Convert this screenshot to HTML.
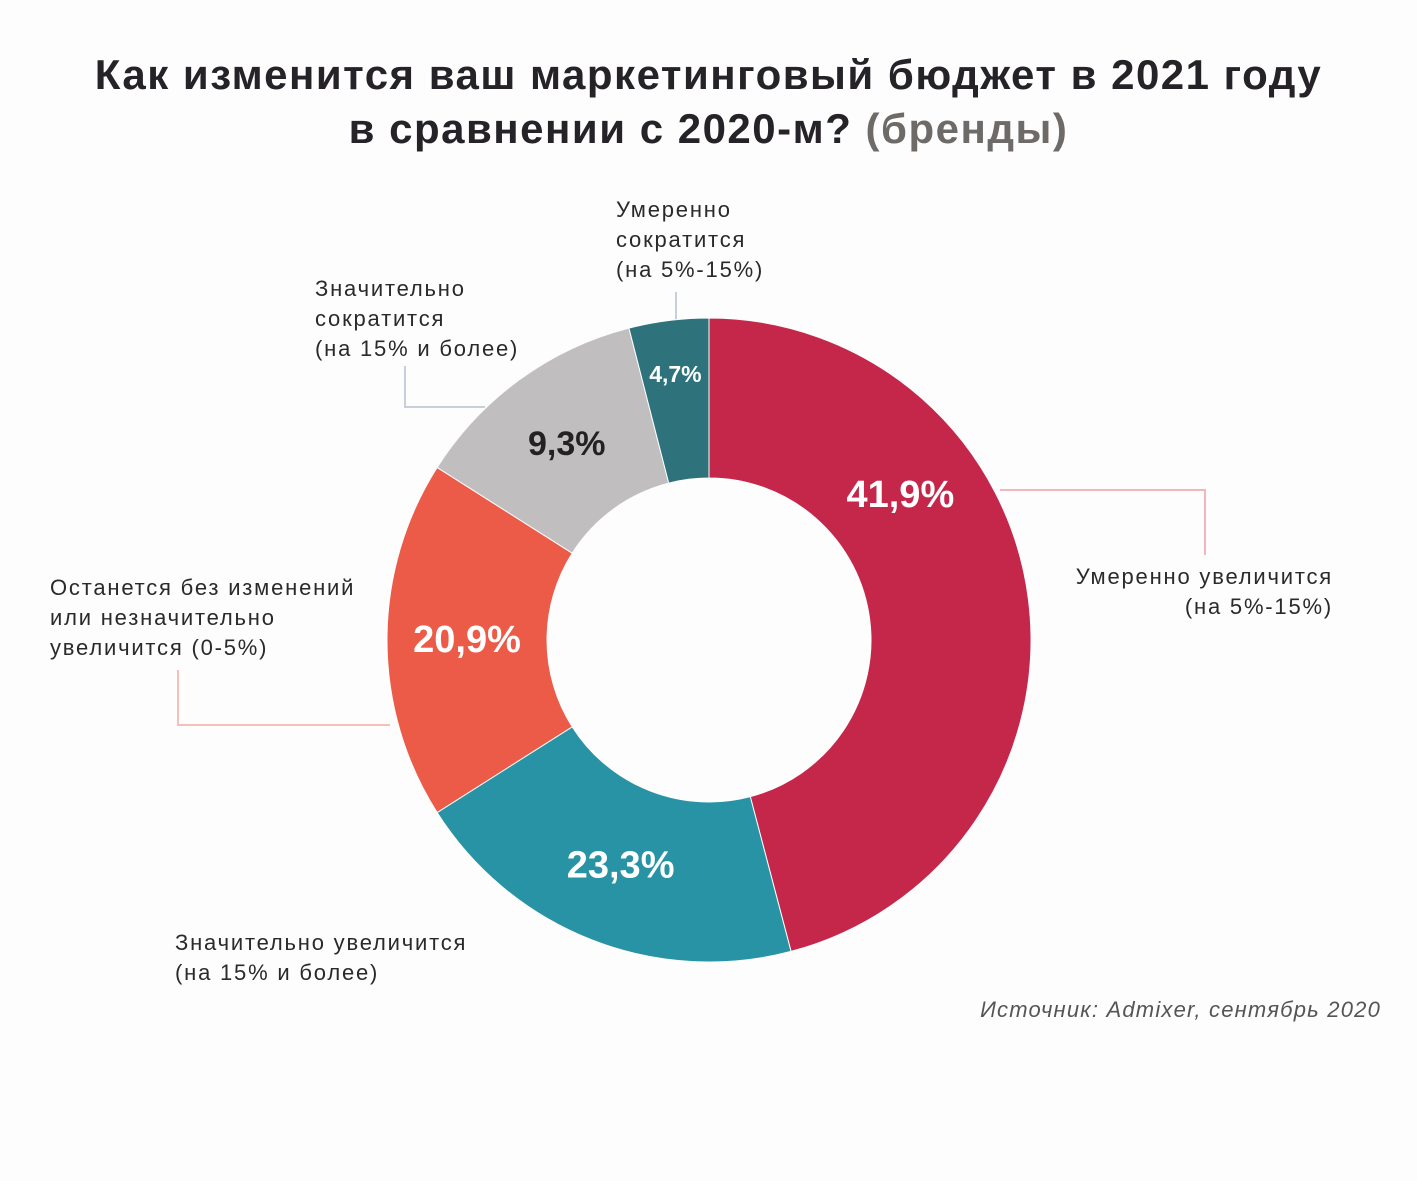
<!DOCTYPE html>
<html><head><meta charset="utf-8">
<style>
body{margin:0;background:#fdfdfd;}
#wrap{position:relative;width:1417px;height:1181px;overflow:hidden;background:#fdfdfd;font-family:"Liberation Sans","DejaVu Sans",sans-serif;}
.title{position:absolute;left:0;width:1417px;text-align:center;font-weight:bold;font-size:42px;letter-spacing:1.5px;color:#262328;}
.lbl{position:absolute;font-size:22px;line-height:30px;letter-spacing:1.8px;color:#2a2a2a;white-space:nowrap;}
</style></head>
<body>
<div id="wrap">
<div class="title" style="top:51px">Как изменится ваш маркетинговый бюджет в 2021 году</div>
<div class="title" style="top:105px">в сравнении с 2020-м? <span style="color:#6d6a68">(бренды)</span></div>
<svg id="chart" width="1417" height="1181" style="position:absolute;left:0;top:0"></svg>
<div class="lbl" style="left:616px;top:195px">Умеренно<br>сократится<br>(на 5%-15%)</div>
<div class="lbl" style="left:315px;top:274px">Значительно<br>сократится<br>(на 15% и более)</div>
<div class="lbl" style="left:50px;top:573px">Останется без изменений<br>или незначительно<br>увеличится (0-5%)</div>
<div class="lbl" style="right:84px;top:562px;text-align:right">Умеренно увеличится<br>(на 5%-15%)</div>
<div class="lbl" style="left:175px;top:928px">Значительно увеличится<br>(на 15% и более)</div>
<div class="lbl" style="right:36px;top:995px;font-style:italic;color:#555;letter-spacing:1.2px">Источник: Admixer, сентябрь 2020</div>
</div>
<script>
const categories = ["Умеренно увеличится","Значительно увеличится","Останется без изменений","Значительно сократится","Умеренно сократится"];
const values = [45.9, 20.1, 18.0, 12.0, 4.0];
const valueLabels = ["41,9%","23,3%","20,9%","9,3%","4,7%"];
const colors = ["#c4274a","#2793a4","#ec5b48","#c0bebe","#2e737c"];
const textColors = ["#fff","#fff","#fff","#222","#fff"];
const fontSizes = [38,38,38,34,23];
const cx=709, cy=640, R=322, r=162;
const svg=document.getElementById('chart');
const NS='http://www.w3.org/2000/svg';
const total=values.reduce((a,b)=>a+b,0);
function pt(a,rad){return [cx+rad*Math.sin(a), cy-rad*Math.cos(a)];}
const lines=[["M1000 490 H1205 V555","#f0b8be"],["M405 366 V407 H485","#c9cfd8"],["M178 670 V725 H390","#f4c0b8"],["M676 292 V320","#c9cfd8"]];
lines.forEach((l,i)=>{
 const p=document.createElementNS(NS,'path');
 p.setAttribute('d',l[0]);p.setAttribute('stroke',l[1]);p.setAttribute('stroke-width','2');p.setAttribute('fill','none');
 
 
 svg.appendChild(p);
});
let acc=0;
values.forEach((v,i)=>{
 const a0=acc/total*2*Math.PI; acc+=v; const a1=acc/total*2*Math.PI;
 const large=(a1-a0)>Math.PI?1:0;
 const [x0,y0]=pt(a0,R),[x1,y1]=pt(a1,R),[x2,y2]=pt(a1,r),[x3,y3]=pt(a0,r);
 const p=document.createElementNS(NS,'path');
 p.setAttribute('d',`M${x0} ${y0} A${R} ${R} 0 ${large} 1 ${x1} ${y1} L${x2} ${y2} A${r} ${r} 0 ${large} 0 ${x3} ${y3} Z`);
 p.setAttribute('fill',colors[i]);p.setAttribute('stroke','#fdfdfd');p.setAttribute('stroke-width','1');
 
 
 svg.appendChild(p);
 const am=(a0+a1)/2; let [tx,ty]=pt(am,242);
 if(i===0){[tx,ty]=pt(a0+(a1-a0)*0.32,240);}
 if(i===4){[tx,ty]=pt(am,268);}
 const t=document.createElementNS(NS,'text');
 t.setAttribute('x',tx);t.setAttribute('y',ty);t.setAttribute('text-anchor','middle');t.setAttribute('dominant-baseline','central');
 t.setAttribute('font-family','Liberation Sans, sans-serif');t.setAttribute('font-weight','bold');
 t.setAttribute('font-size',fontSizes[i]);t.setAttribute('fill',textColors[i]);
 t.textContent=valueLabels[i];
 
 
 svg.appendChild(t);
});
</script>
</body></html>
